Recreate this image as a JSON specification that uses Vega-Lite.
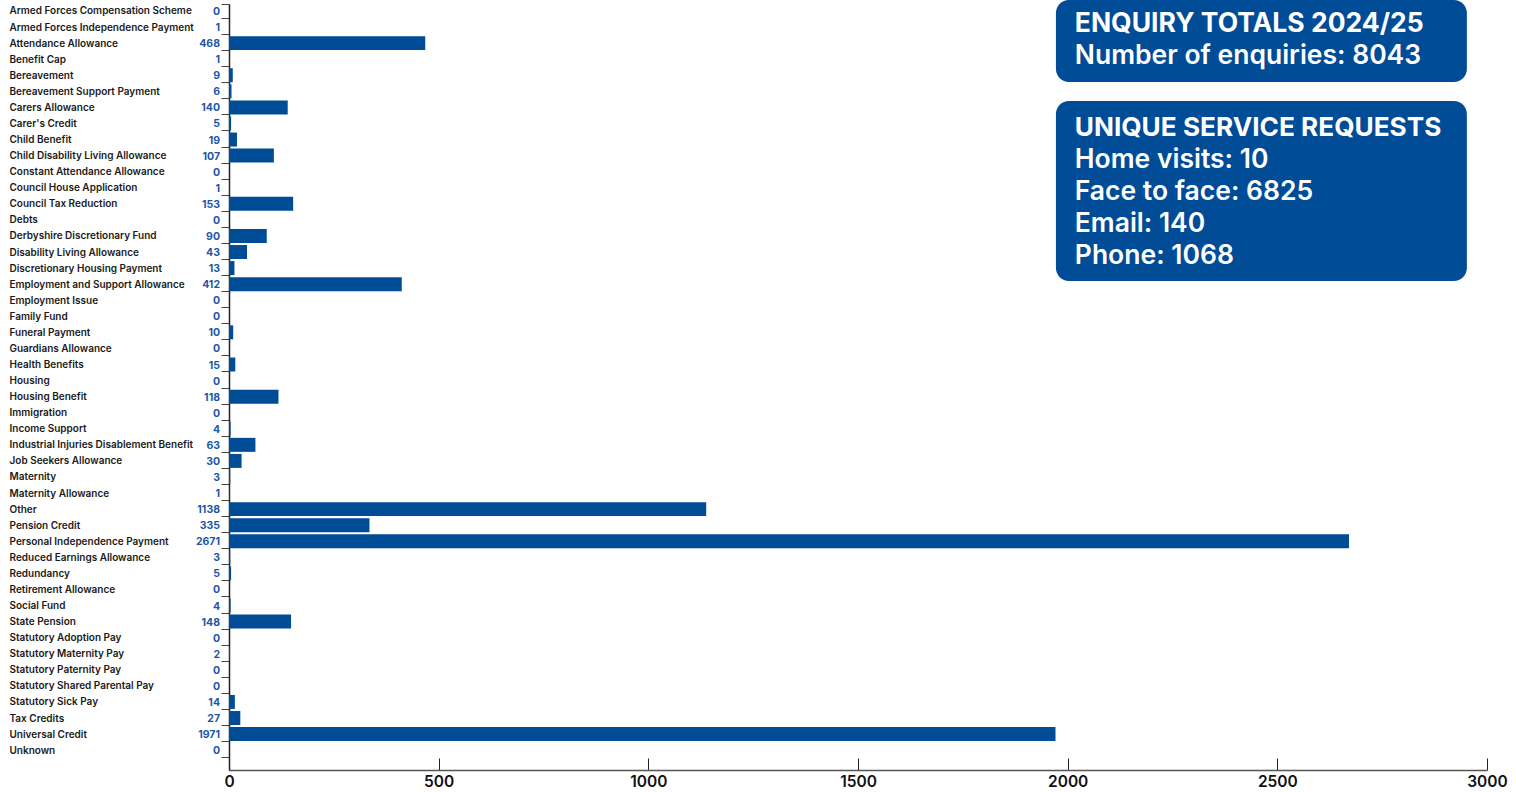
{
  "$schema": "https://vega.github.io/schema/vega-lite/v6.json",
  "autosize": {"type": "none"},
  "width": 1258,
  "height": 766,
  "padding": {"left": 229, "top": 4, "right": 29, "bottom": 22},
  "background": "white",
  "config": {"view": {"stroke": null}, "font": "Inter"},
  "datasets": {
    "enquiries": [
      {"category": "Armed Forces Compensation Scheme", "count": 0},
      {"category": "Armed Forces Independence Payment", "count": 1},
      {"category": "Attendance Allowance", "count": 468},
      {"category": "Benefit Cap", "count": 1},
      {"category": "Bereavement", "count": 9},
      {"category": "Bereavement Support Payment", "count": 6},
      {"category": "Carers Allowance", "count": 140},
      {"category": "Carer's Credit", "count": 5},
      {"category": "Child Benefit", "count": 19},
      {"category": "Child Disability Living Allowance", "count": 107},
      {"category": "Constant Attendance Allowance", "count": 0},
      {"category": "Council House Application", "count": 1},
      {"category": "Council Tax Reduction", "count": 153},
      {"category": "Debts", "count": 0},
      {"category": "Derbyshire Discretionary Fund", "count": 90},
      {"category": "Disability Living Allowance", "count": 43},
      {"category": "Discretionary Housing Payment", "count": 13},
      {"category": "Employment and Support Allowance", "count": 412},
      {"category": "Employment Issue", "count": 0},
      {"category": "Family Fund", "count": 0},
      {"category": "Funeral Payment", "count": 10},
      {"category": "Guardians Allowance", "count": 0},
      {"category": "Health Benefits", "count": 15},
      {"category": "Housing", "count": 0},
      {"category": "Housing Benefit", "count": 118},
      {"category": "Immigration", "count": 0},
      {"category": "Income Support", "count": 4},
      {"category": "Industrial Injuries Disablement Benefit", "count": 63},
      {"category": "Job Seekers Allowance", "count": 30},
      {"category": "Maternity", "count": 3},
      {"category": "Maternity Allowance", "count": 1},
      {"category": "Other", "count": 1138},
      {"category": "Pension Credit", "count": 335},
      {"category": "Personal Independence Payment", "count": 2671},
      {"category": "Reduced Earnings Allowance", "count": 3},
      {"category": "Redundancy", "count": 5},
      {"category": "Retirement Allowance", "count": 0},
      {"category": "Social Fund", "count": 4},
      {"category": "State Pension", "count": 148},
      {"category": "Statutory Adoption Pay", "count": 0},
      {"category": "Statutory Maternity Pay", "count": 2},
      {"category": "Statutory Paternity Pay", "count": 0},
      {"category": "Statutory Shared Parental Pay", "count": 0},
      {"category": "Statutory Sick Pay", "count": 14},
      {"category": "Tax Credits", "count": 27},
      {"category": "Universal Credit", "count": 1971},
      {"category": "Unknown", "count": 0}
    ],
    "totals": [
      {"line": 0, "text": "ENQUIRY TOTALS 2024/25"},
      {"line": 1, "text": "Number of enquiries: 8043"}
    ],
    "services": [
      {"line": 0, "text": "UNIQUE SERVICE REQUESTS"},
      {"line": 1, "text": "Home visits: 10"},
      {"line": 2, "text": "Face to face: 6825"},
      {"line": 3, "text": "Email: 140"},
      {"line": 4, "text": "Phone: 1068"}
    ]
  },
  "layer": [
    {
      "data": {"name": "enquiries"},
      "layer": [
        {
          "mark": {"type": "bar", "color": "#004C97"},
          "encoding": {
            "y": {
              "field": "category", "type": "nominal", "sort": null,
              "scale": {"paddingInner": 0.13, "paddingOuter": 0.4, "align": 0},
              "axis": {
                "title": null, "labelAlign": "left", "labelPadding": 212, "tickSize": 8,
                "tickBand": "extent", "labelFontSize": 10, "labelFontWeight": 600,
                "labelColor": "#1a1a1a", "labelFont": "Inter", "domainColor": "#222",
                "tickColor": "#444", "domainWidth": 1.5, "labelLimit": 0
              }
            },
            "x": {
              "field": "count", "type": "quantitative",
              "scale": {"domain": [0, 3000], "nice": false},
              "axis": {
                "title": null, "values": [0, 500, 1000, 1500, 2000, 2500, 3000], "format": "d",
                "tickSize": -12, "labelFontSize": 15.5, "labelFontWeight": 600,
                "labelColor": "#111", "domainColor": "#555", "tickColor": "#222",
                "domainWidth": 1.5, "labelPadding": 16, "grid": false, "labelFlush": false
              }
            }
          }
        },
        {
          "mark": {"type": "text", "align": "right", "dx": -9, "dy": 1, "color": "#1D57A8", "fontWeight": 700, "fontSize": 10.5, "font": "Inter"},
          "encoding": {
            "y": {"field": "category", "type": "nominal", "sort": null},
            "x": {"datum": 0, "type": "quantitative"},
            "text": {"field": "count", "type": "quantitative"}
          }
        }
      ]
    },
    {
      "data": {"name": "totals"},
      "layer": [
        {
          "mark": {"type": "rect", "color": "#004C97", "cornerRadius": 13, "yOffset": -22, "y2Offset": 28},
          "encoding": {
            "y": {"aggregate": "min", "field": "line", "type": "quantitative",
                  "scale": {"domain": [-0.5625, 23.375], "reverse": true, "nice": false, "zero": false}, "axis": null},
            "y2": {"aggregate": "max", "field": "line"},
            "x": {"datum": 1972, "type": "quantitative"},
            "x2": {"datum": 2952}
          }
        },
        {
          "transform": [{"filter": "datum.line == 0"}],
          "mark": {"type": "text", "align": "left", "baseline": "middle", "dy": 2, "color": "white", "fontSize": 26.5, "fontWeight": 700, "font": "Inter"},
          "encoding": {
            "y": {"field": "line", "type": "quantitative"},
            "x": {"datum": 2017, "type": "quantitative"},
            "text": {"field": "text"}
          }
        },
        {
          "transform": [{"filter": "datum.line > 0"}],
          "mark": {"type": "text", "align": "left", "baseline": "middle", "dy": 2, "color": "white", "fontSize": 26.5, "fontWeight": 600, "font": "Inter"},
          "encoding": {
            "y": {"field": "line", "type": "quantitative"},
            "x": {"datum": 2017, "type": "quantitative"},
            "text": {"field": "text"}
          }
        }
      ]
    },
    {
      "data": {"name": "services"},
      "layer": [
        {
          "mark": {"type": "rect", "color": "#004C97", "cornerRadius": 13, "yOffset": -25, "y2Offset": 27},
          "encoding": {
            "y": {"aggregate": "min", "field": "line", "type": "quantitative",
                  "scale": {"domain": [-3.8125, 20.125], "reverse": true, "nice": false, "zero": false}, "axis": null},
            "y2": {"aggregate": "max", "field": "line"},
            "x": {"datum": 1972, "type": "quantitative"},
            "x2": {"datum": 2952}
          }
        },
        {
          "transform": [{"filter": "datum.line == 0"}],
          "mark": {"type": "text", "align": "left", "baseline": "middle", "dy": 2, "color": "white", "fontSize": 26.2, "fontWeight": 700, "font": "Inter"},
          "encoding": {
            "y": {"field": "line", "type": "quantitative"},
            "x": {"datum": 2017, "type": "quantitative"},
            "text": {"field": "text"}
          }
        },
        {
          "transform": [{"filter": "datum.line > 0"}],
          "mark": {"type": "text", "align": "left", "baseline": "middle", "dy": 2, "color": "white", "fontSize": 26.5, "fontWeight": 600, "font": "Inter"},
          "encoding": {
            "y": {"field": "line", "type": "quantitative"},
            "x": {"datum": 2017, "type": "quantitative"},
            "text": {"field": "text"}
          }
        }
      ]
    }
  ],
  "resolve": {"scale": {"y": "independent"}}
}
